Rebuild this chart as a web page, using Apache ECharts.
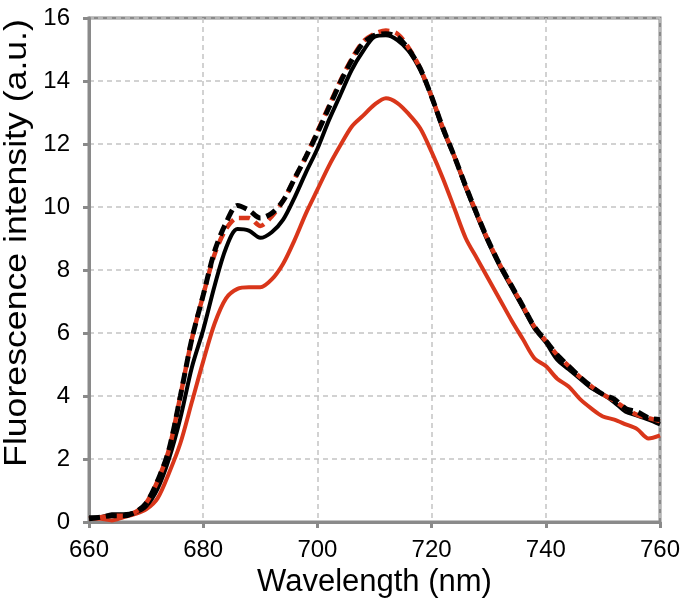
<!DOCTYPE html>
<html>
<head>
<meta charset="utf-8">
<script src="https://cdn.jsdelivr.net/npm/echarts@6/dist/echarts.min.js"></script>
<style>
html,body{margin:0;padding:0;background:#fff;}
#chart{width:680px;height:599px;}
</style>
</head>
<body>
<div id="chart"></div>
<script>
const wavelengths = [660,662,664,666,668,670,672,674,676,678,680,682,684,686,688,690,692,694,696,698,700,702,704,706,708,710,712,714,716,718,720,722,724,726,728,730,732,734,736,738,740,742,744,746,748,750,752,754,756,758,760];

const redSolid = [0.1,0.1,0.05,0.15,0.25,0.4,0.75,1.55,2.5,3.8,5.1,6.3,7.1,7.4,7.45,7.45,7.7,8.2,8.95,9.8,10.55,11.3,11.95,12.55,12.9,13.25,13.45,13.3,12.95,12.5,11.75,10.9,9.95,9.0,8.35,7.7,7.05,6.4,5.8,5.2,4.95,4.55,4.3,3.9,3.6,3.35,3.25,3.1,2.95,2.65,2.75];

const blackSolid = [0.15,0.15,0.25,0.25,0.3,0.5,1.05,2.0,3.3,4.9,6.1,7.5,8.7,9.3,9.25,9.02,9.2,9.6,10.3,11.1,11.85,12.75,13.55,14.35,14.95,15.4,15.45,15.3,14.95,14.35,13.5,12.45,11.6,10.6,9.7,8.85,8.1,7.45,6.8,6.15,5.7,5.15,4.85,4.55,4.25,4.05,3.8,3.5,3.38,3.25,3.1];

const redDashed = [0.1,0.15,0.2,0.2,0.3,0.6,1.3,2.3,4.0,5.8,7.2,8.5,9.3,9.65,9.65,9.4,9.7,10.2,10.9,11.6,12.4,13.2,14.0,14.7,15.25,15.5,15.6,15.5,15.05,14.4,13.5,12.5,11.6,10.65,9.75,8.9,8.15,7.5,6.85,6.2,5.75,5.3,4.95,4.6,4.3,4.05,3.85,3.6,3.4,3.3,3.2];

const blackDashed = [0.1,0.15,0.2,0.2,0.3,0.6,1.3,2.3,4.0,5.8,7.2,8.6,9.5,10.05,9.9,9.65,9.8,10.2,10.9,11.6,12.35,13.15,13.95,14.65,15.2,15.45,15.5,15.4,15.0,14.4,13.5,12.5,11.6,10.65,9.75,8.9,8.15,7.5,6.85,6.2,5.75,5.3,4.95,4.6,4.3,4.05,3.9,3.6,3.5,3.3,3.25];

const xTitle = 'Wavelength (nm)';
const yTitle = 'Fluorescence intensity (a.u.)';

function pairs(vals){ return wavelengths.map((w,i)=>[w, vals[i]]); }

const RED = '#d9361a';
const AXIS = '#8a8a8a';
const FONT = 'Liberation Sans, Arial, sans-serif';

const chart = echarts.init(document.getElementById('chart'), null, {renderer:'canvas'});
chart.setOption({
  animation:false,
  backgroundColor:'#fff',
  grid:{left:89,right:20,top:18,bottom:77,outerBoundsMode:'none',containLabel:false,show:true,borderColor:AXIS,borderWidth:3,backgroundColor:'transparent'},
  graphic:[{
    type:'text', x:17, y:243, rotation:Math.PI/2, scaleX:1.15,
    style:{text:yTitle, font:'31px "Liberation Sans", Arial, sans-serif', fill:'#000', align:'center', verticalAlign:'middle'}
  }],
  xAxis:{
    type:'value',min:660,max:760,interval:20,
    name:xTitle,nameLocation:'middle',nameGap:40,
    nameTextStyle:{fontFamily:FONT,fontSize:31,color:'#000'},
    axisLine:{show:true,lineStyle:{color:AXIS,width:3}},
    axisTick:{show:true,length:6,lineStyle:{color:AXIS,width:3}},
    axisLabel:{fontFamily:FONT,fontSize:24,color:'#000',margin:16},
    splitLine:{show:true,lineStyle:{color:'#c4c4c4',width:1.5,type:[5,4]}}
  },
  yAxis:{
    type:'value',min:0,max:16,interval:2,
    axisLine:{show:true,lineStyle:{color:AXIS,width:3}},
    axisTick:{show:true,length:6,lineStyle:{color:AXIS,width:3}},
    axisLabel:{fontFamily:FONT,fontSize:24,color:'#000',margin:19},
    splitLine:{show:true,lineStyle:{color:'#c4c4c4',width:1.5,type:[5,4]}}
  },
  series:[
    {type:'line',data:pairs(redSolid),showSymbol:false,smooth:0.3,lineStyle:{color:RED,width:4},z:2},
    {type:'line',data:pairs(blackSolid),showSymbol:false,smooth:0.3,lineStyle:{color:'#000',width:4},z:3},
    {type:'line',data:pairs(redDashed),showSymbol:false,smooth:0.3,lineStyle:{color:RED,width:4.5,type:[11,6],dashOffset:8},z:4},
    {type:'line',data:pairs(blackDashed),showSymbol:false,smooth:0.3,lineStyle:{color:'#000',width:5,type:[11,6]},z:5}
  ]
});
</script>
</body>
</html>
